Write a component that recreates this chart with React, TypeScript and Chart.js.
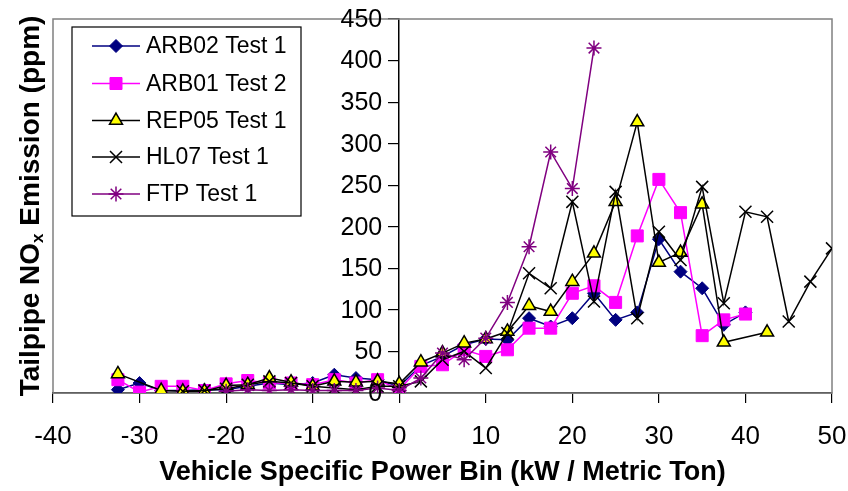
import React, { useEffect, useRef } from 'react';
import { Chart, registerables } from 'chart.js';
import { drawPoint } from 'chart.js/helpers';

Chart.register(...registerables);

// VSP bins (kW / metric ton)
const vspBins = [
  -32.5, -30, -27.5, -25, -22.5, -20, -17.5, -15, -12.5, -10, -7.5, -5, -2.5, 0,
  2.5, 5, 7.5, 10, 12.5, 15, 17.5, 20, 22.5, 25, 27.5, 30, 32.5, 35, 37.5, 40,
  42.5, 45, 47.5, 50,
];

// Tailpipe NOx (ppm) per bin; null = no data in that bin
const arb02Test1 = [
  4, 12, 3, 3, 4, 4, 8, 12, 10, 12, 22, 18, 16, 8,
  33, 44, 58, 65, 64, 90, 80, 90, 120, 88, 97, 185, 146, 126, 82, 97,
  null, null, null, null,
];
const arb01Test2 = [
  16, 1, 8, 8, 3, 11, 15, 12, 12, 10, 16, 12, 16, 4,
  32, 34, 52, 44, 52, 78, 78, 120, 129, 109, 189, 257, 217, 69, 88, 95,
  null, null, null, null,
];
const rep05Test1 = [
  23, null, 3, 2, 2, 9, 10, 18, 13, 8, 14, 13, 14, 11,
  37, 48, 60, 65, 74, 105, 98, 134, 168, 230, 326, 157, 169, 227, 61, null,
  73, null, null, null,
];
const hl07Test1 = [
  null, null, null, 2, 3, 5, 10, 14, 12, 8, 6, 4, 8, 8,
  14, 40, 50, 30, 72, 144, 126, 230, 110, 242, 90, 194, 160, 248, 108, 218,
  212, 86, 134, 174,
];
const ftpTest1 = [
  null, null, null, null, null, 2, 4, 3, 4, 3, 3, 3, 6, 3,
  18, 48, 40, 66, 109, 176, 290, 246, 415, null, null, null, null, null, null, null,
  null, null, null, null,
];

const seriesNames = ['ARB02 Test 1', 'ARB01 Test 2', 'REP05 Test 1', 'HL07 Test 1', 'FTP Test 1'];

const xMin = -40;
const xMax = 50;
const xStep = 10;
const yMin = 0;
const yMax = 450;
const yStep = 50;

const xTitle = 'Vehicle Specific Power Bin (kW / Metric Ton)';
const yTitleParts = ['Tailpipe NO', 'x', ' Emission (ppm)'];

const FONT = "'Liberation Sans', Arial, sans-serif";

type Pt = { x: number; y: number };
function toPoints(values: (number | null)[]): Pt[] {
  const out: Pt[] = [];
  vspBins.forEach((x, i) => {
    const v = values[i];
    if (v !== null && v !== undefined) out.push({ x, y: v });
  });
  return out;
}

const styles = [
  { color: '#000080', bg: '#000080', pointStyle: 'rectRot', radius: 6.5, pbw: 1 },
  { color: '#FF00FF', bg: '#FF00FF', pointStyle: 'rect', radius: 8.5, pbw: 1 },
  { color: '#000000', bg: '#FFFF00', pointStyle: 'triangle', radius: 7.5, pbw: 1.5 },
  { color: '#000000', bg: '#000000', pointStyle: 'crossRot', radius: 8.5, pbw: 1.5 },
  { color: '#800080', bg: '#800080', pointStyle: 'star', radius: 7.5, pbw: 1.5 },
];

const frameAndTitles = {
  id: 'frameAndTitles',
  beforeDatasetsDraw(chart: any) {
    const { ctx, chartArea } = chart;
    ctx.save();
    ctx.strokeStyle = '#808080';
    ctx.lineWidth = 1.5;
    ctx.strokeRect(chartArea.left, chartArea.top, chartArea.right - chartArea.left, chartArea.bottom - chartArea.top);
    ctx.restore();
  },
  afterDraw(chart: any) {
    const { ctx, chartArea } = chart;
    const xs = chart.scales.x;
    const ys = chart.scales.y;
    ctx.save();
    // y tick labels, placed left of the y axis (which sits at x = 0)
    const axisX = xs.getPixelForValue(0);
    ctx.fillStyle = '#000';
    ctx.font = `25px ${FONT}`;
    ctx.textAlign = 'right';
    ctx.textBaseline = 'middle';
    ys.ticks.forEach((t: any) => {
      ctx.fillText(String(t.value), axisX - 17, ys.getPixelForValue(t.value) + 1);
    });

    // x title
    ctx.font = `bold 27px ${FONT}`;
    ctx.textAlign = 'center';
    ctx.textBaseline = 'middle';
    ctx.fillText(xTitle, (chartArea.left + chartArea.right) / 2, 473);

    // y title with subscript
    const big = `bold 28px ${FONT}`;
    const small = `bold 17px ${FONT}`;
    ctx.font = big;
    const w0 = ctx.measureText(yTitleParts[0]).width;
    const w2 = ctx.measureText(yTitleParts[2]).width;
    ctx.font = small;
    const w1 = ctx.measureText(yTitleParts[1]).width;
    const total = w0 + w1 + w2;
    const cy = (chartArea.top + chartArea.bottom) / 2;
    ctx.translate(39, cy);
    ctx.rotate(-Math.PI / 2);
    ctx.textAlign = 'left';
    ctx.textBaseline = 'alphabetic';
    let x = -total / 2;
    ctx.font = big;
    ctx.fillText(yTitleParts[0], x, 0);
    x += w0;
    ctx.font = small;
    ctx.fillText(yTitleParts[1], x, 4);
    x += w1;
    ctx.font = big;
    ctx.fillText(yTitleParts[2], x, 0);
    ctx.restore();

    // legend box
    ctx.save();
    const bx = 72, by = 27, bw = 229, bh = 189;
    ctx.fillStyle = '#fff';
    ctx.fillRect(bx, by, bw, bh);
    ctx.strokeStyle = '#000';
    ctx.lineWidth = 1.2;
    ctx.strokeRect(bx, by, bw, bh);
    const rows = [46, 83.5, 120.5, 157, 194];
    seriesNames.forEach((name, i) => {
      const s = styles[i];
      const yy = rows[i];
      ctx.strokeStyle = s.color;
      ctx.lineWidth = 1.5;
      ctx.beginPath();
      ctx.moveTo(92, yy);
      ctx.lineTo(140, yy);
      ctx.stroke();
      ctx.fillStyle = s.bg;
      ctx.strokeStyle = s.color;
      ctx.lineWidth = s.pbw;
      drawPoint(ctx, { pointStyle: s.pointStyle, radius: s.radius, borderWidth: s.pbw, rotation: 0 } as any, 116, yy);
      ctx.fillStyle = '#000';
      ctx.font = `23px ${FONT}`;
      ctx.textAlign = 'left';
      ctx.textBaseline = 'middle';
      ctx.fillText(name, 146, yy + 1);
    });
    ctx.restore();
  },
};

export default function App() {
  const ref = useRef<HTMLCanvasElement | null>(null);
  useEffect(() => {
    document.body.style.margin = '0';
    const canvas = ref.current;
    if (!canvas) return;
    const allSeries = [arb02Test1, arb01Test2, rep05Test1, hl07Test1, ftpTest1];
    const datasets = allSeries.map((vals, i) => ({
      label: seriesNames[i],
      data: toPoints(vals),
      showLine: true,
      borderColor: styles[i].color,
      backgroundColor: styles[i].bg,
      borderWidth: 1.5,
      pointStyle: styles[i].pointStyle,
      pointRadius: styles[i].radius,
      pointBorderWidth: styles[i].pbw,
      pointBorderColor: styles[i].color,
      pointBackgroundColor: styles[i].bg,
      order: 5 - i,
      tension: 0,
    }));
    const chart = new Chart(canvas, {
      type: 'scatter',
      data: { datasets } as any,
      options: {
        animation: false,
        responsive: true,
        maintainAspectRatio: false,
        layout: { padding: { left: 53, top: 19, right: 16, bottom: 28 } },
        plugins: { legend: { display: false }, tooltip: { enabled: false } },
        scales: {
          x: {
            type: 'linear',
            position: 'bottom',
            min: xMin,
            max: xMax,
            ticks: { stepSize: xStep, color: '#000', font: { family: FONT, size: 26 }, padding: 18 },
            grid: { drawOnChartArea: false, drawTicks: true, tickLength: 10, color: '#000', lineWidth: 1.2 },
            border: { display: true, color: '#000', width: 1.5 },
            afterFit: (s: any) => {
              s.height = 70;
              s.paddingLeft = 0;
              s.paddingRight = 0;
            },
          },
          y: {
            type: 'linear',
            position: { x: 0 } as any,
            min: yMin,
            max: yMax,
            ticks: { stepSize: yStep, display: false },
            grid: { drawOnChartArea: false, drawTicks: true, tickLength: 10, color: '#000', lineWidth: 1.2 },
            border: { display: true, color: '#000', width: 1.5 },
            afterFit: (s: any) => {
              s.paddingTop = 0;
              s.paddingBottom = 0;
            },
          },
        },
      } as any,
      plugins: [frameAndTitles],
    });
    return () => chart.destroy();
  }, []);
  return (
    <div style={{ width: 848, height: 491, position: 'relative' }}>
      <canvas ref={ref} />
    </div>
  );
}
